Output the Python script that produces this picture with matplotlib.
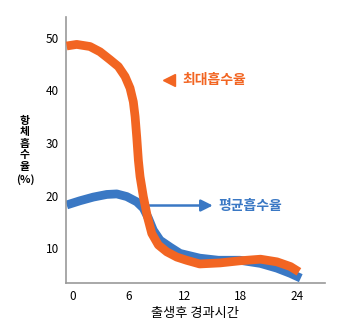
import matplotlib.pyplot as plt

plt.rcParams['font.family'] = ['Noto Sans CJK KR', 'DejaVu Sans']

# 최대흡수율 (orange)
max_x = [-0.61, 0.46, 1.88, 2.95, 4.02, 4.91, 5.63, 6.16, 6.51, 6.70, 6.88, 7.05, 7.23,
         7.58, 8.01, 8.48, 9.19, 10.09, 11.16, 12.2, 13.6, 15.8, 17.9, 20.1, 21.85, 23.3, 24.2]
max_y = [48.4, 48.7, 48.3, 47.3, 45.8, 44.5, 42.6, 40.4, 37.8, 35.0, 31.0, 26.7, 23.6,
         19.8, 16.0, 12.8, 10.6, 9.3, 8.3, 7.7, 7.0, 7.2, 7.6, 7.9, 7.4, 6.5, 5.5]

# 평균흡수율 (blue)
avg_x = [-0.61, 0.81, 2.24, 3.67, 4.74, 5.81, 6.88, 7.58, 8.12, 8.65, 9.37, 10.44, 11.5,
         13.6, 15.6, 17.9, 20.1, 21.85, 23.3, 24.4]
avg_y = [18.2, 19.0, 19.7, 20.2, 20.3, 19.8, 18.8, 17.6, 15.7, 13.4, 11.5, 10.2, 9.0,
         8.1, 7.7, 7.7, 7.1, 6.2, 5.2, 4.3]

xticks = [0, 6, 12, 18, 24]
yticks = [10, 20, 30, 40, 50]

orange = '#f26522'
blue = '#3a78c4'

fig = plt.figure(figsize=(3.53, 3.34), dpi=100)
ax = fig.add_axes([0.187, 0.153, 0.734, 0.796])

# arrow for average
ax.annotate('', xy=(15.0, 18.1), xytext=(7.6, 18.1),
            arrowprops=dict(arrowstyle='-|>,head_length=0.7,head_width=0.35',
                            color=blue, lw=1.8, shrinkA=0, shrinkB=0), zorder=1)
ax.plot(avg_x, avg_y, color=blue, lw=6.3, solid_capstyle='butt',
        solid_joinstyle='round', zorder=2)
ax.plot(max_x, max_y, color=orange, lw=6.3, solid_capstyle='butt',
        solid_joinstyle='round', zorder=3)

ax.plot([10.3], [42.0], marker='<', color=orange, ms=8, ls='none', clip_on=False)
ax.text(11.8, 42.0, '최대흡수율', color=orange, fontsize=10, fontweight='bold',
        va='center', ha='left')
ax.text(15.6, 18.1, '평균흡수율', color=blue, fontsize=10, fontweight='bold',
        va='center', ha='left')

ax.set_xlim(-0.68, 27.0)
ax.set_ylim(3.4, 53.9)
ax.set_xticks(xticks)
ax.set_yticks(yticks)
ax.set_xticklabels([str(t) for t in xticks], fontsize=8.5)
ax.set_yticklabels([str(t) for t in yticks], fontsize=8.5)
ax.tick_params(length=0, pad=5)

for s in ['top', 'right']:
    ax.spines[s].set_visible(False)
for s in ['left', 'bottom']:
    ax.spines[s].set_color('#999999')
    ax.spines[s].set_linewidth(1.2)

fig.text(25 / 353, 1 - 150 / 334, '\n'.join(list('항체흡수율')) + '\n(%)', fontsize=7.8,
         fontweight='bold', ha='center', va='center', linespacing=1.2)
fig.text(195 / 353, 1 - 313 / 334, '출생후 경과시간', fontsize=9.5, fontweight='medium',
         ha='center', va='center')

fig.savefig('out.png', dpi=100)
